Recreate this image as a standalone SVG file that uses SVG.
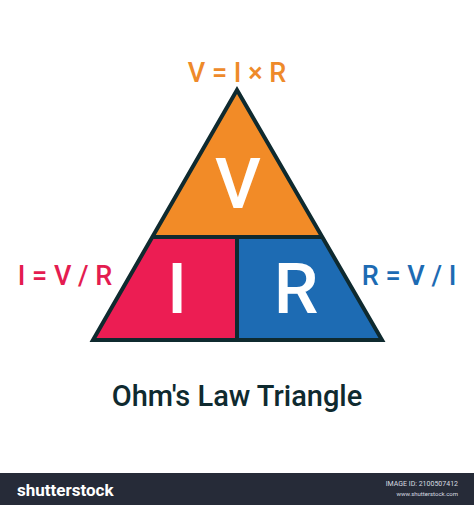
<svg xmlns="http://www.w3.org/2000/svg" width="474" height="505" viewBox="0 0 474 505">
  <style>
    .f { font-family: Roboto, "Open Sans", "Liberation Sans", sans-serif; }
    .formula { font-size: 27px; font-weight: 500; text-anchor: middle; }
    .big { font-size: 71px; font-weight: 500; fill: #ffffff; text-anchor: middle; }
    .edge { fill: none; stroke: #0f2a2f; stroke-width: 4; stroke-linejoin: miter; }
  </style>
  <rect width="474" height="505" fill="#ffffff"/>

  <g id="section-V">
    <polygon points="237,90 152,237 322,237" fill="#f28b27"/>
    <text class="f big" x="238" y="208">V</text>
  </g>
  <g id="section-I">
    <polygon points="152,237 237,237 237,340 93,340" fill="#ec1d53"/>
    <text class="f big" x="177" y="313">I</text>
  </g>
  <g id="section-R">
    <polygon points="237,237 322,237 382,340 237,340" fill="#1d6bb3"/>
    <text class="f big" x="296" y="313">R</text>
  </g>

  <g id="connectors">
    <polygon class="edge" points="237,90 93,340 382,340"/>
    <line class="edge" x1="152" y1="237" x2="322" y2="237"/>
    <line class="edge" x1="237" y1="237" x2="237" y2="340"/>
  </g>

  <g id="formula-V">
    <text class="f formula" x="237" y="82" fill="#ee8a2a">V = I × R</text>
  </g>
  <g id="formula-I">
    <text class="f formula" x="65" y="285" fill="#e41c50">I = V / R</text>
  </g>
  <g id="formula-R">
    <text class="f formula" x="409" y="285" fill="#1d6bb3">R = V / I</text>
  </g>

  <g id="title">
    <text class="f" x="237" y="406" font-size="29" font-weight="500" fill="#0f2a2f" text-anchor="middle">Ohm's Law Triangle</text>
  </g>

  <g id="footer">
    <rect x="0" y="473" width="474" height="32" fill="#262b38"/>
    <text class="f" x="17" y="496" font-size="17" font-weight="700" fill="#ffffff">shutterstock</text>
    <text class="f" x="458" y="486" font-size="7" fill="#d8dbe0" text-anchor="end">IMAGE ID: 2100507412</text>
    <text class="f" x="458" y="496" font-size="6" fill="#d8dbe0" text-anchor="end">www.shutterstock.com</text>
  </g>
</svg>
